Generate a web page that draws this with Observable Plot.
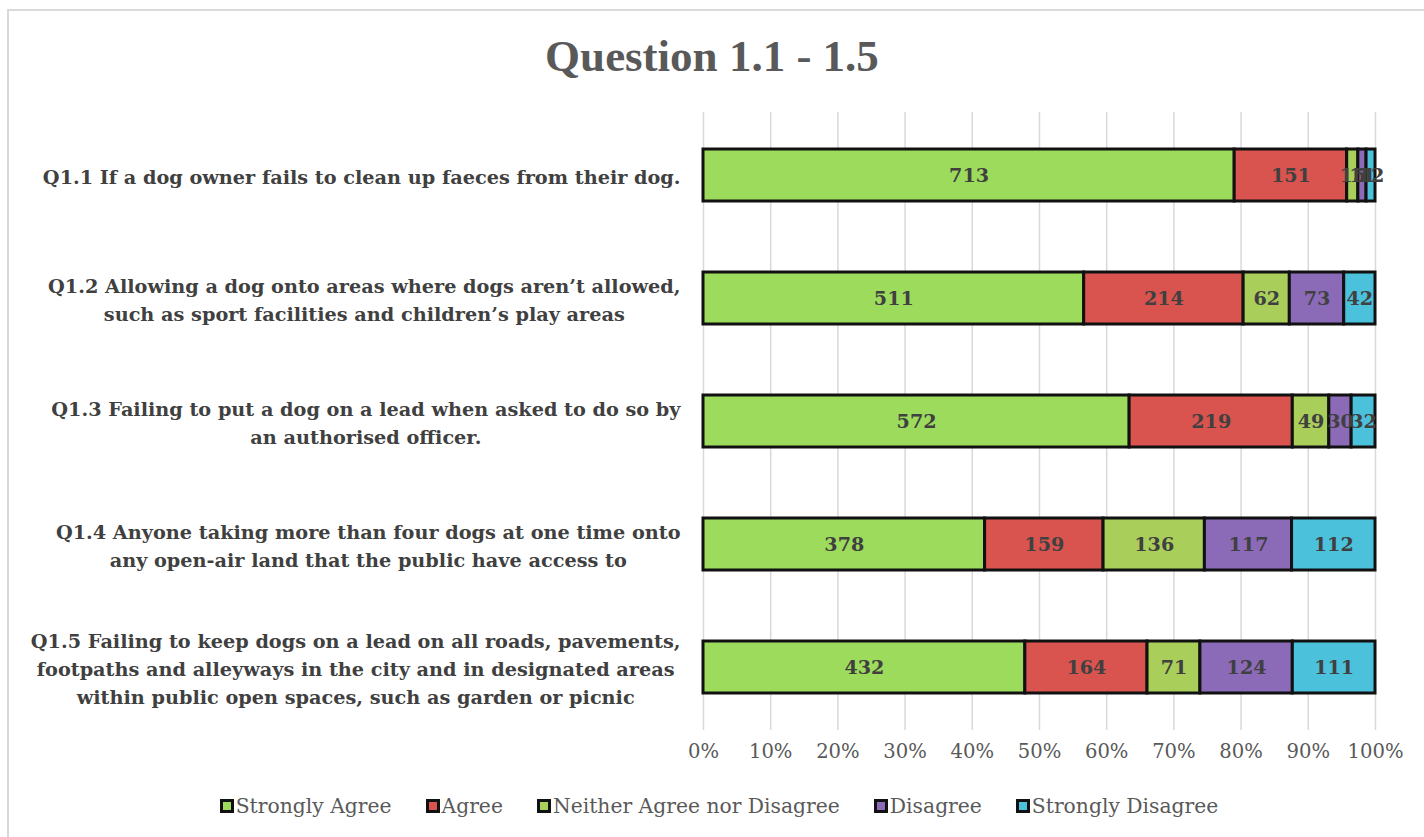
<!DOCTYPE html>
<html>
<head>
<meta charset="utf-8">
<script src="https://cdn.jsdelivr.net/npm/d3@7"></script>
<script src="https://cdn.jsdelivr.net/npm/@observablehq/plot@0.6"></script>
<style>
  html, body { margin: 0; padding: 0; background: #fff; overflow: hidden; }
  body { width: 1424px; height: 837px; position: relative; font-family: "Liberation Serif", serif; }
  #frame { position: absolute; left: 7px; top: 9px; width: 1440px; height: 850px; border: 2px solid #d9d9d9; box-sizing: border-box; }
  #title { position: absolute; left: 0; top: 30px; width: 1424px; text-align: center; font-weight: bold; font-size: 45px; color: #595959; line-height: 52px; }
  #chart { position: absolute; left: 0; top: 110px; }
  #legend { position: absolute; left: 0; top: 794px; width: 1424px; display: flex; justify-content: center; gap: 34px; color: #595959; padding-left: 14px; box-sizing: border-box; font-family: "DejaVu Serif", serif; }
  .item { display: flex; align-items: center; }
  .sw { width: 8px; height: 8px; border: 3px solid #111; margin-right: 2px; }
</style>
</head>
<body>
<div id="frame"></div>
<div id="title">Question 1.1 - 1.5</div>
<div id="chart"></div>
<div id="legend"></div>
<script>
const questions = [
  "Q1.1 If a dog owner fails to clean up faeces from their dog.",
  "Q1.2 Allowing a dog onto areas where dogs aren’t allowed,\nsuch as sport facilities and children’s play areas",
  "Q1.3 Failing to put a dog on a lead when asked to do so by\nan authorised officer.",
  "Q1.4 Anyone taking more than four dogs at one time onto\nany open-air land that the public have access to",
  "Q1.5 Failing to keep dogs on a lead on all roads, pavements,\nfootpaths and alleyways in the city and in designated areas\nwithin public open spaces, such as garden or picnic"
];
const categories = ["Strongly Agree", "Agree", "Neither Agree nor Disagree", "Disagree", "Strongly Disagree"];
const stronglyAgree    = [713, 511, 572, 378, 432];
const agree            = [151, 214, 219, 159, 164];
const neither          = [15, 62, 49, 136, 71];
const disagree         = [11, 73, 30, 117, 124];
const stronglyDisagree = [12, 42, 32, 112, 111];
const colors = ["#9ddb5c", "#d9534f", "#a9cf5a", "#8b6bb8", "#4bc1dc"];
const xTicks = [0, 0.1, 0.2, 0.3, 0.4, 0.5, 0.6, 0.7, 0.8, 0.9, 1];

const series = [stronglyAgree, agree, neither, disagree, stronglyDisagree];
const rows = [];
questions.forEach((q, i) => {
  categories.forEach((c, j) => rows.push({question: q, category: c, value: series[j][i]}));
});

const FAM = "DejaVu Serif";
const canvas = document.createElement("canvas");
const ctx = canvas.getContext("2d");
function textWidth(s, size, weight) {
  ctx.font = `${weight} ${size}px '${FAM}'`;
  return ctx.measureText(s).width;
}
function fit(s, weight, target) {
  return Math.min(24, 100 * target / textWidth(s, 100, weight));
}
const labelSize = fit("Q1.5 Failing to keep dogs on a lead on all roads, pavements,", "bold", 650);
const tickSize = fit("100%", "normal", 56);
const legendSize = fit("Strongly Agree", "normal", 156);
const valueSize = fit("713", "bold", 40);

const blockWidth = q => Math.max(...q.split("\n").map(s => textWidth(s, labelSize, "bold")));

const yLabelMarks = questions.map(q =>
  Plot.text([q], {
    x: () => 0, y: d => d, text: d => d,
    textAnchor: "middle", lineAnchor: "middle", lineHeight: 28 / labelSize,
    dx: -(23 + blockWidth(q) / 2),
    fontSize: labelSize, fontWeight: "bold", fill: "#404040",
    fontFamily: FAM
  })
);

const chart = Plot.plot({
  width: 1424,
  height: 660,
  marginLeft: 703,
  marginRight: 49,
  marginTop: 2,
  marginBottom: 40,
  style: {fontFamily: FAM, fontSize: tickSize + "px", color: "#595959", background: "transparent", overflow: "visible"},
  x: {domain: [0, 1], ticks: xTicks, tickFormat: d => Math.round(d * 100) + "%", tickSize: 0, tickPadding: 14, label: null},
  y: {domain: questions, paddingInner: 0.58, paddingOuter: 0.29, axis: null, label: null},
  color: {domain: categories, range: colors},
  marks: [
    Plot.ruleX(xTicks, {stroke: "#d9d9d9", strokeWidth: 1.5}),
    Plot.barX(rows, Plot.stackX({x: "value", y: "question", fill: "category", offset: "normalize", order: null,
      stroke: "#111", strokeWidth: 3})),
    Plot.text(rows, Plot.stackX({x: "value", y: "question", text: d => String(d.value), offset: "normalize", order: null,
      fontSize: valueSize, fontWeight: "bold", fill: "#404040", fontFamily: FAM})),
    ...yLabelMarks
  ]
});
document.getElementById("chart").appendChild(chart);

const legend = document.getElementById("legend");
legend.style.fontSize = legendSize + "px";
categories.forEach((c, i) => {
  const it = document.createElement("div");
  it.className = "item";
  const sw = document.createElement("div");
  sw.className = "sw";
  sw.style.background = colors[i];
  const t = document.createElement("span");
  t.textContent = c;
  it.appendChild(sw); it.appendChild(t);
  legend.appendChild(it);
});
</script>
</body>
</html>
